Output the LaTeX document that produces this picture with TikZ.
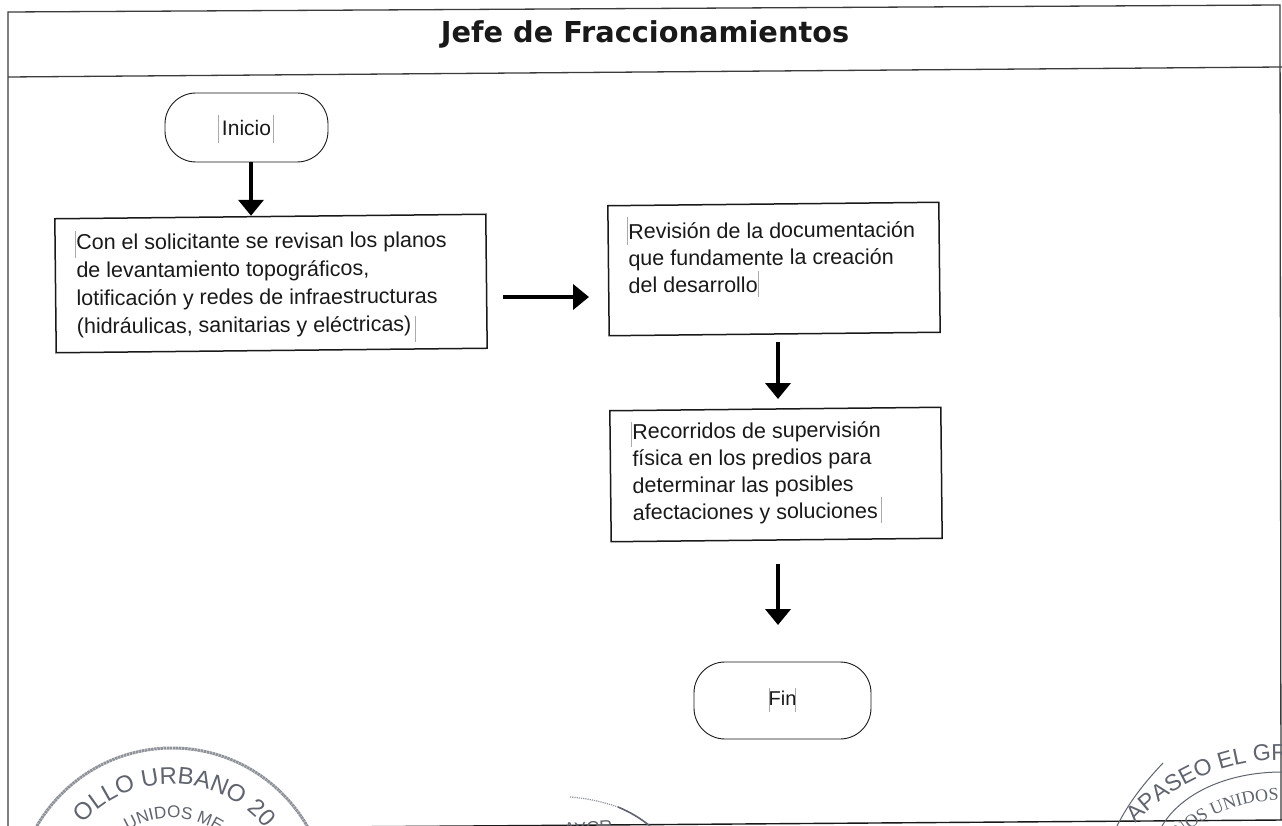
\documentclass[tikz,border=0pt]{standalone}
\usepackage{fontspec}
\setmainfont{Liberation Sans}
\newfontfamily\titlefont{DejaVu Sans}
\newfontfamily\stampserif{Liberation Serif}
\usetikzlibrary{arrows.meta,decorations.text}
\definecolor{ink}{RGB}{25,25,25}
\definecolor{stampc}{RGB}{95,100,110}
\definecolor{caretc}{RGB}{170,170,170}
\tikzset{
 x=1pt,y=-1pt,
 boxstyle/.style={draw=ink,line width=1.5pt,inner sep=0pt,rotate=0.6},
 bodytext/.style={align=left,anchor=north west,inner sep=0pt,rotate=0.4,text=ink},
 termstyle/.style={draw=ink,line width=0.9pt,rounded corners=31pt,inner sep=0pt,text=ink,font=\fontsize{20}{24}\selectfont},
 flowarrow/.style={draw=black,line width=4pt,-{Triangle[length=16pt,width=25pt]}},
 caret/.style={draw=caretc,line width=0.7pt},
}
\begin{document}
\begin{tikzpicture}
\useasboundingbox (0,0) rectangle (1282,826);
\clip (0,0) rectangle (1282,826);
\fill[white] (0,0) rectangle (1282,826);
% frame
\coordinate (fTL) at (8,12); \coordinate (fTR) at (1280,5);
\coordinate (fML) at (8,77); \coordinate (fMR) at (1282,67);
\coordinate (fBL) at (8,826); \coordinate (fBE) at (1282,820); \coordinate (fBS) at (330,827);
\coordinate (fRB) at (1281,820);
\draw[ink!85,line width=1.3pt] (fBL) -- (fTL) -- (fTR) -- (fRB);
\draw[ink!85,line width=1.3pt] (fML) -- (fMR);
\draw[ink,line width=1.4pt] (fBS) -- (fBE);
\node[font=\titlefont\bfseries\fontsize{28.8}{32}\selectfont,text=ink] (title) at (645,34) {Jefe de Fraccionamientos};
% terminals
\node[termstyle,minimum width=163pt,minimum height=69pt] (ini) at (246.5,127.5) {\raisebox{-2.5pt}{\fontsize{21}{24}\selectfont Inicio}};
\node[termstyle,minimum width=177pt,minimum height=77pt] (fin) at (782.5,700.5) {\raisebox{5pt}{Fin}};
% boxes
\node[boxstyle,minimum width=431pt,minimum height=134pt] (a) at (271,283.5) {};
\node[bodytext,font=\fontsize{21.5}{28}\selectfont] (ta) at (76,234) {Con el solicitante se revisan los planos\\de levantamiento topográficos,\\lotificación y redes de infraestructuras\\(hidráulicas, sanitarias y eléctricas)};
\node[boxstyle,minimum width=331pt,minimum height=130pt] (b) at (774,269) {};
\node[bodytext,font=\fontsize{21.5}{27}\selectfont] (tb) at (628,223) {Revisión de la documentación\\que fundamente la creación\\del desarrollo};
\node[boxstyle,minimum width=331pt,minimum height=131pt] (c) at (776,474.5) {};
\node[bodytext,font=\fontsize{21.5}{27}\selectfont] (tc) at (632,423) {Recorridos de supervisión\\física en los predios para\\determinar las posibles\\afectaciones y soluciones};
% carets
\draw[caret] (218,115) -- (218,143) (273,115) -- (273,143);
\draw[caret] (769,688) -- (769,712) (795,688) -- (795,712);
\draw[caret] (75,231) -- (75,258) (415,316) -- (415,342);
\draw[caret] (627,217) -- (627,245) (758,271) -- (758,297);
\draw[caret] (631,422) -- (631,447) (881,497) -- (881,523);
% arrows
\coordinate (abS) at (503,297); \coordinate (abE) at (589,297);
\coordinate (bcS) at (778,342); \coordinate (bcE) at (778,399);
\coordinate (cfS) at (778,564); \coordinate (cfE) at (778,625);
\draw[flowarrow] ([xshift=4.5pt]ini.south) -- ([xshift=4.5pt]ini.south |- a.north);
\draw[flowarrow] (abS) -- (abE);
\draw[flowarrow] (bcS) -- (bcE);
\draw[flowarrow] (cfS) -- (cfE);
% left stamp
\begin{scope}[shift={(172,904)},x=1pt,y=1pt]
\draw[stampc!70,line width=3pt,dash pattern=on 2.5pt off 0.6pt] (0,0) circle (156);
\path[decorate,decoration={text along path,text align=center,text={|\fontsize{24}{24}\selectfont\color{stampc}|OLLO URBANO 20}}] (143:120) arc (143:34:120);
\path[decorate,decoration={text along path,text align=left,text={|\fontsize{17}{17}\selectfont\color{stampc}|UNIDOS ME}}] (121:86) arc (121:45:86);
\end{scope}
% middle stamp
\draw[stampc!70,line width=1.2pt,densely dotted] (570,797) .. controls (585,798) and (600,801) .. (618,807);
\draw[stampc,line width=1.6pt] (618,807) .. controls (630,812) and (640,818) .. (650,826);
\node[font=\fontsize{18}{18}\selectfont,text=stampc,rotate=4,inner sep=0pt] (may) at (588,828) {AYCR};
% right stamp
\draw[stampc,line width=1pt] (1163,763) .. controls (1145,782) and (1129,802) .. (1117,826);
\draw[stampc,line width=1pt] (1162,826) .. controls (1180,795) and (1225,772) .. (1282,772);
\begin{scope}[shift={(1282,960)},x=1pt,y=1pt]
\path[decorate,decoration={text along path,text align=left,text={|\fontsize{23}{23}\selectfont\color{stampc}|APASEO EL GR}}] (137:200) arc (137:80:200);
\path[decorate,decoration={text along path,text align=left,text={|\stampserif\fontsize{18}{18}\selectfont\color{stampc}|NOS UNIDOS}}] (130:160) arc (130:82:160);
\draw[stampc,line width=0.9pt] (-14,-148) ellipse (14 and 6);
\draw[stampc,line width=0.9pt] (-50,-138) .. controls (-40,-146) and (-34,-140) .. (-26,-145);
\draw[stampc,line width=0.9pt] (-40,-134) .. controls (-25,-140) and (-12,-136) .. (0,-140);
\end{scope}
\end{tikzpicture}
\end{document}
